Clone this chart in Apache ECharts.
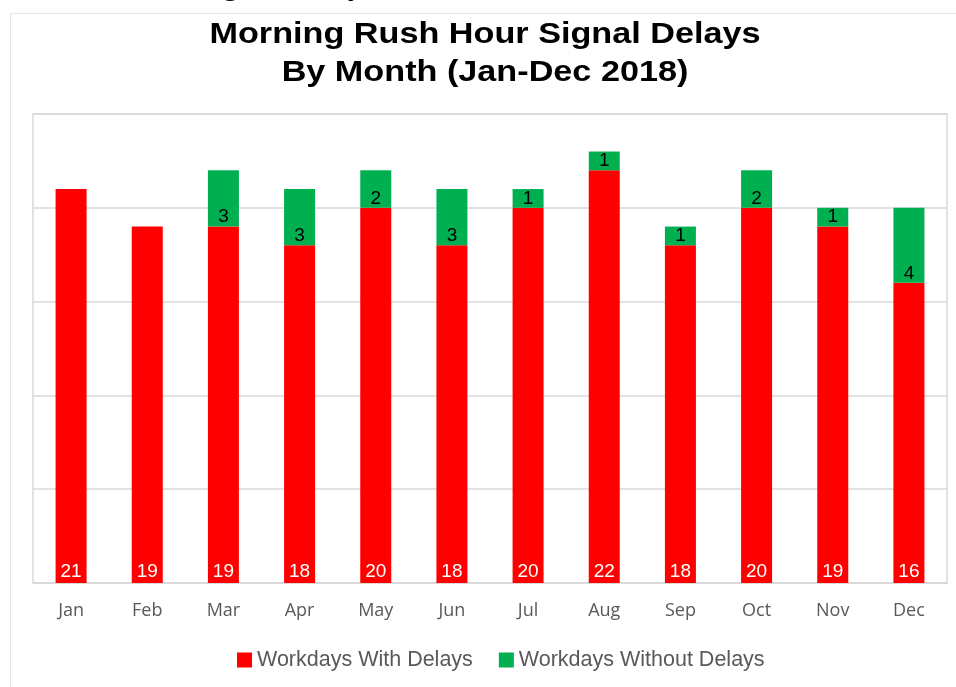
<!DOCTYPE html>
<html>
<head>
<meta charset="utf-8">
<script src="https://cdn.jsdelivr.net/npm/echarts@6/dist/echarts.min.js"></script>
<style>html,body{margin:0;padding:0;background:#fff;}#c{width:956px;height:687px;}</style>
</head>
<body>
<div id="c"></div>
<script>
const months = ['Jan','Feb','Mar','Apr','May','Jun','Jul','Aug','Sep','Oct','Nov','Dec'];
const withDelays = [21,19,19,18,20,18,20,22,18,20,19,16];
const withoutDelays = [0,0,3,3,2,3,1,1,1,2,1,4];
const yTicks = [0,5,10,15,20,25];
const titleLines = ['Morning Rush Hour Signal Delays','By Month (Jan-Dec 2018)'];

const chart = echarts.init(document.getElementById('c'), null, {renderer:'canvas'});
chart.setOption({
  backgroundColor:'#fff',
  animation:false,
  graphic:[
    {type:'rect', shape:{x:10.5,y:13.5,width:960,height:700}, style:{fill:'none', stroke:'#e6e6e6', lineWidth:1}, silent:true, z:-1},
    {type:'text', x:197, y:1, style:{text:'Signal Delays', font:'bold 31px "Liberation Serif", serif', fill:'#000', textVerticalAlign:'bottom'}, silent:true},
    {type:'text', x:485, y:35, scaleX:1.14, style:{text:titleLines[0], font:'bold 30px "Liberation Sans", Arial', fill:'#000', textAlign:'center', textVerticalAlign:'middle'}, silent:true},
    {type:'text', x:485, y:73, scaleX:1.14, style:{text:titleLines[1], font:'bold 30px "Liberation Sans", Arial', fill:'#000', textAlign:'center', textVerticalAlign:'middle'}, silent:true}
  ],
  legend:{
    bottom:11, left:232,
    itemWidth:15, itemHeight:15, itemGap:26,
    icon:'rect',
    textStyle:{color:'#595959', fontSize:21.5, fontFamily:'Liberation Sans, Arial'},
    data:['Workdays With Delays','Workdays Without Delays']
  },
  grid:{left:33, right:9, top:114, bottom:104, show:true, borderColor:'#d9d9d9', borderWidth:1.5},
  xAxis:{
    type:'category', data:months,
    axisLine:{lineStyle:{color:'#d9d9d9', width:1.5}},
    axisTick:{show:false},
    axisLabel:{color:'#595959', fontSize:18, margin:19, fontFamily:'Open Sans, Arial'}
  },
  yAxis:{
    type:'value', min:yTicks[0], max:yTicks[yTicks.length-1], interval:5,
    axisLabel:{show:false}, axisLine:{show:false}, axisTick:{show:false},
    splitLine:{lineStyle:{color:'#d9d9d9', width:1.5}}
  },
  series:[
    {
      name:'Workdays With Delays', type:'bar', stack:'a', data:withDelays, barWidth:31,
      itemStyle:{color:'#FF0000'},
      label:{show:true, position:'insideBottom', distance:2, color:'#fff', fontSize:19, fontFamily:'Liberation Sans, Arial'}
    },
    {
      name:'Workdays Without Delays', type:'bar', stack:'a', data:withoutDelays.map(v=>v===0?null:v), barWidth:31,
      itemStyle:{color:'#00B050'},
      label:{show:true, position:'insideBottom', distance:0, color:'#000', fontSize:19, fontFamily:'Liberation Sans, Arial'}
    }
  ]
});
</script>
</body>
</html>
